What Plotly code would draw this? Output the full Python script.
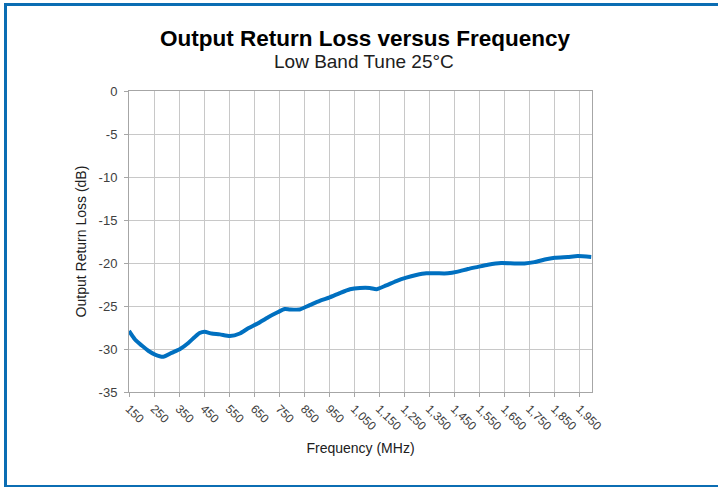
import plotly.graph_objects as go

freq_mhz = [150, 174, 201, 227, 254, 287, 320, 354, 387, 413, 432, 452, 480, 513, 553, 593,
            626, 666, 706, 746, 772, 793, 832, 872, 912, 952, 992, 1033, 1073, 1112,
            1139, 1178, 1218, 1258, 1298, 1338, 1378, 1424, 1464, 1504, 1544, 1584,
            1637, 1690, 1730, 1770, 1811, 1851, 1903, 1943, 1997]
return_loss_db = [-27.9, -28.9, -29.6, -30.2, -30.65, -30.9, -30.45, -30.0, -29.3, -28.6,
                  -28.15, -28.0, -28.2, -28.3, -28.5, -28.2, -27.6, -27.0, -26.3, -25.7, -25.35,
                  -25.4, -25.4, -24.9, -24.4, -24.0, -23.5, -23.05, -22.9, -22.9, -23.05,
                  -22.6, -22.1, -21.7, -21.4, -21.2, -21.2, -21.2, -21.0, -20.7, -20.45,
                  -20.2, -20.0, -20.05, -20.05, -19.9, -19.6, -19.4, -19.3, -19.2, -19.3]
x_ticks = list(range(150, 2000, 100))
y_ticks = list(range(-35, 1, 5))
y_tick_text = [str(v) for v in y_ticks]

FONT = "Liberation Sans, Arial, sans-serif"
W, H = 718, 487
L, R, T, B = 129, 126, 91, 95
pw, ph = W - L - R, H - T - B

def px(x):
    return (x - L) / pw

def py(y):
    return (H - B - y) / ph

fig = go.Figure()
fig.add_trace(go.Scatter(x=freq_mhz, y=return_loss_db, mode="lines",
                         line=dict(color="#0070C0", width=4, shape="spline", smoothing=0.6),
                         showlegend=False))

fig.update_layout(
    width=W, height=H,
    margin=dict(l=L, r=R, t=T, b=B),
    paper_bgcolor="white", plot_bgcolor="white",
    font=dict(family=FONT, color="#404040", size=12),
    xaxis=dict(range=[150, 2000], tickvals=x_ticks, tickformat=",d", tickangle=45,
               showgrid=True, gridcolor="#C8C8C8", gridwidth=1,
               showline=True, linecolor="#A6A6A6", linewidth=1, mirror=True,
               ticks="outside", ticklen=4, tickcolor="#A6A6A6",
               tickfont=dict(size=12, color="#404040"),
               title=dict(text="Frequency (MHz)", font=dict(size=14, color="#202020"), standoff=10),
               zeroline=False),
    yaxis=dict(range=[-35, 0], tickvals=y_ticks, ticktext=y_tick_text,
               showgrid=True, gridcolor="#C8C8C8", gridwidth=1,
               showline=True, linecolor="#A6A6A6", linewidth=1, mirror=True,
               ticks="outside", ticklen=4, tickcolor="#A6A6A6", ticklabelstandoff=4,
               tickfont=dict(size=13, color="#404040"),
               title=dict(text="Output Return Loss (dB)", font=dict(size=14, color="#202020"), standoff=8),
               zeroline=False),
    annotations=[
        dict(text="<b>Output Return Loss versus Frequency</b>", xref="paper", yref="paper",
             x=px(365), y=py(38), xanchor="center", yanchor="middle", showarrow=False,
             font=dict(size=22.5, color="black", family=FONT)),
        dict(text="Low Band Tune 25°C", xref="paper", yref="paper",
             x=px(364), y=py(61), xanchor="center", yanchor="middle", showarrow=False,
             font=dict(size=19, color="#202020", family=FONT)),
    ],
    shapes=[
        dict(type="rect", xref="paper", yref="paper",
             x0=px(5.5), x1=px(725), y0=py(486.5), y1=py(4.5),
             line=dict(color="#0B6DB3", width=3), fillcolor="rgba(0,0,0,0)", layer="above"),
    ],
)

fig.write_html("out.html", config={"displayModeBar": False},
               post_script="document.body.style.margin='0px';")
